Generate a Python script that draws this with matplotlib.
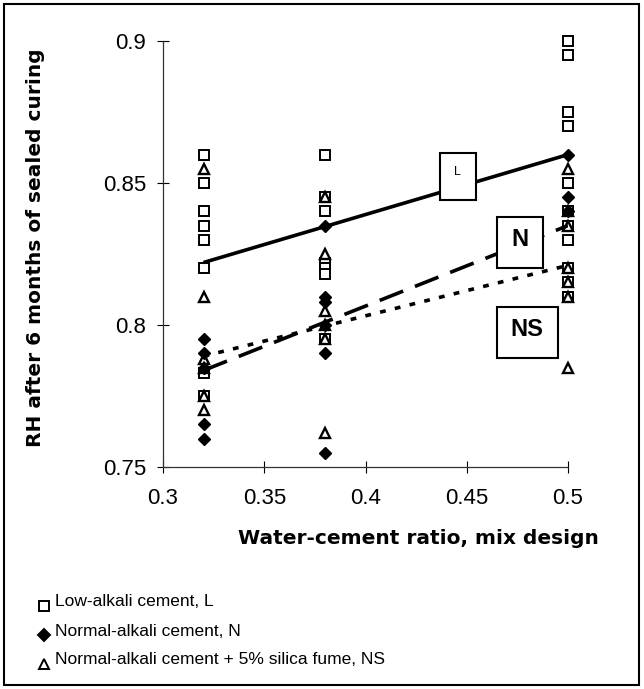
import matplotlib
matplotlib.use("Agg")
import matplotlib.pyplot as plt
from matplotlib.patches import Rectangle

plt.rcParams['font.family'] = ['Liberation Sans', 'DejaVu Sans']

# relative humidity readings per water-cement ratio
L_x = [0.32] * 8 + [0.38] * 7 + [0.5] * 12
L_rh = [0.86, 0.85, 0.84, 0.835, 0.83, 0.82, 0.783, 0.775,
        0.86, 0.845, 0.84, 0.822, 0.82, 0.818, 0.795,
        0.9, 0.895, 0.875, 0.87, 0.85, 0.84, 0.835, 0.83, 0.82, 0.815, 0.81, 0.81]
L_x = L_x[:len(L_rh)]

N_x = [0.32] * 5 + [0.38] * 6 + [0.5] * 3
N_rh = [0.795, 0.79, 0.785, 0.765, 0.76,
        0.835, 0.81, 0.808, 0.80, 0.79, 0.755,
        0.86, 0.845, 0.84]

NS_x = [0.32] * 6 + [0.38] * 6 + [0.5] * 7
NS_rh = [0.855, 0.81, 0.788, 0.785, 0.775, 0.77,
         0.845, 0.825, 0.805, 0.80, 0.795, 0.762,
         0.855, 0.84, 0.835, 0.82, 0.815, 0.81, 0.785]

# linear trend lines
fit_x = [0.32, 0.5]
L_fit = [0.822, 0.86]
N_fit = [0.784, 0.835]
NS_fit = [0.789, 0.821]

xticks = [0.3, 0.35, 0.4, 0.45, 0.5]
yticks = [0.75, 0.8, 0.85, 0.9]

W, H = 644, 689
fig = plt.figure(figsize=(W / 100, H / 100), dpi=100)

def fx(px):
    return px / W

def fy(py):
    return 1 - py / H

ax = fig.add_axes([fx(163), fy(467), fx(568) - fx(163), fy(41) - fy(467)])

ax.plot(L_x, L_rh, 's', mfc='white', mec='black', mew=1.4, ms=7.5, clip_on=False, zorder=3)
ax.plot(NS_x, NS_rh, '^', mfc='white', mec='black', mew=1.7, ms=7.5, clip_on=False, zorder=3)
ax.plot(N_x, N_rh, 'D', mfc='black', mec='black', ms=6.5, clip_on=False, zorder=3)

ax.plot(fit_x, L_fit, '-', color='black', lw=2.6, zorder=4, solid_capstyle='butt')
ax.plot(fit_x, N_fit, color='black', lw=2.6, dashes=(7, 3.5), zorder=4)
ax.plot(fit_x, NS_fit, color='black', lw=2.6, dashes=(1.6, 2.6), zorder=4)

ax.set_xlim(0.3, 0.5)
ax.set_ylim(0.75, 0.9)
ax.set_xticks(xticks)
ax.set_yticks(yticks)
ax.set_xticklabels(['0.3', '0.35', '0.4', '0.45', '0.5'])
ax.set_yticklabels(['0.75', '0.8', '0.85', '0.9'])
ax.tick_params(direction='inout', length=8, width=0.8, labelsize=16)
ax.tick_params(axis='x', pad=11)
ax.tick_params(axis='y', pad=8)
for s in ['top', 'right']:
    ax.spines[s].set_visible(False)
for s in ['left', 'bottom']:
    ax.spines[s].set_linewidth(0.9)
    ax.spines[s].set_color('#333333')

# series labels in boxes
def boxed(x0, y0, x1, y1, label, tx, ty, size, weight):
    fig.patches.append(Rectangle((fx(x0), fy(y1)), fx(x1) - fx(x0), fy(y0) - fy(y1),
                                 transform=fig.transFigure, fill=True, fc='white',
                                 ec='black', lw=1.5, zorder=5))
    fig.text(fx(tx), fy(ty), label, ha='center', va='center', fontsize=size,
             fontweight=weight, zorder=6)

boxed(440, 153, 476, 200, 'L', 457, 172, 9, 'normal')
boxed(497, 217, 543, 268, 'N', 520, 240, 17, 'bold')
boxed(497, 307, 558, 358, 'NS', 527, 330, 17, 'bold')

fig.text(fx(36), fy(248), 'RH after 6 months of sealed curing', rotation=90,
         ha='center', va='center', fontsize=14.5, fontweight='bold', family='DejaVu Sans')
fig.text(fx(418), fy(539), 'Water-cement ratio, mix design', ha='center', va='center',
         fontsize=14.5, fontweight='bold', family='DejaVu Sans')

# legend below the axes
legend_rows = [('s', 'white', 'Low-alkali cement, L'),
               ('D', 'black', 'Normal-alkali cement, N'),
               ('^', 'white', 'Normal-alkali cement + 5% silica fume, NS')]
for i, (m, fc, txt) in enumerate(legend_rows):
    yy = 606 + i * 29
    fig.lines.append(plt.Line2D([fx(44)], [fy(yy)], marker=m, mfc=fc, mec='black',
                                mew=1.4, ms=6.5, transform=fig.transFigure))
    fig.text(fx(55), fy(yy - 4), txt, ha='left', va='center', fontsize=12.5)

fig.patches.append(Rectangle((fx(4), fy(685)), fx(639) - fx(4), fy(4) - fy(685),
                             transform=fig.transFigure, fill=False, ec='black', lw=1.5))

fig.savefig('out.png', dpi=100)
